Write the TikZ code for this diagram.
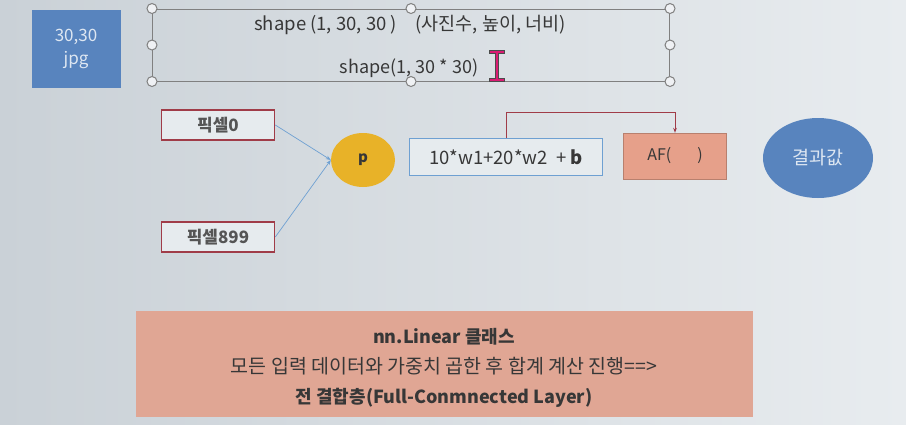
\documentclass[tikz,border=0pt]{standalone}
\usepackage{fontspec}
\setmainfont{Noto Sans CJK KR}
\usetikzlibrary{arrows.meta,shapes.geometric}
\definecolor{slide}{RGB}{214,221,227}
\definecolor{slideleft}{RGB}{202,209,215}
\definecolor{slideright}{RGB}{232,236,239}
\definecolor{imgblue}{RGB}{88,132,190}
\definecolor{pxred}{RGB}{160,60,72}
\definecolor{pyellow}{RGB}{232,178,40}
\definecolor{linkblue}{RGB}{110,160,210}
\definecolor{afsalmon}{RGB}{230,160,138}
\definecolor{boxsalmon}{RGB}{224,166,148}
\definecolor{txtgrey}{RGB}{55,55,55}
\begin{document}
\begin{tikzpicture}[x=1pt,y=-1pt,
    pixel/.style={draw=pxred,line width=1.6pt,fill=slide!60!white,minimum width=113pt,minimum height=30pt,font=\fontsize{17}{19}\selectfont\bfseries,text=txtgrey!85},
    handle/.style={circle,draw=gray,line width=1pt,fill=slide!40!white,inner sep=0pt,minimum size=10pt},
    link/.style={->,draw=linkblue,line width=0.7pt,>={Stealth[length=5pt]}}]
  \shade[left color=slideleft,right color=slideright] (0,0) rectangle (906,424);
  \useasboundingbox (0,0) rectangle (906,424);
  % image box
  \node[fill=imgblue,minimum width=89pt,minimum height=78pt,text=white!80!imgblue,
        align=center,font=\fontsize{17}{23}\selectfont] (img) at (76,49) {30,30\\jpg};
  % selected text box
  \node[draw=gray,line width=1pt,minimum width=517pt,minimum height=72pt] (shapebox) at (411,45) {};
  \node[font=\fontsize{18.5}{20}\selectfont,text=txtgrey] (shape3) at (410,25) {shape (1, 30, 30 )\quad (사진수, 높이, 너비)};
  \node[font=\fontsize{18}{20}\selectfont,text=txtgrey] (shape2) at (409,68) {shape(1, 30 * 30)};
  \foreach \pos in {north west,north,north east,west,east,south west,south,south east}
    \node[handle] at (shapebox.\pos) {};
  % cursor
  \draw[line width=3.2pt,black!70] (489,52) -- (505,52) (497,52) -- (497,80) (489,80) -- (505,80);
  \draw[line width=1.6pt,magenta!60!purple] (490,52) -- (504,52) (497,52) -- (497,80) (490,80) -- (504,80);
  % inputs
  \node[pixel] (px0) at (218,125) {픽셀0};
  \node[pixel] (px899) at (218,237) {픽셀899};
  \node[ellipse,fill=pyellow,minimum width=64pt,minimum height=54pt,
        font=\fontsize{15}{17}\selectfont\bfseries,text=txtgrey] (p) at (363,160) {p};
  \draw[link] (px0.east) -- (p.west);
  \draw[link] (px899.east) -- (p.west);
  % weighted sum and activation
  \node[draw=linkblue,line width=1pt,fill=slide!60!white,minimum width=193pt,minimum height=37pt,
        font=\fontsize{18.5}{20}\selectfont,text=txtgrey] (sum) at (506,157) {10*w1+20*w2\ \ +\ \textbf{b}};
  \node[draw=afsalmon!80!black,fill=afsalmon,minimum width=103pt,minimum height=46pt,
        font=\fontsize{16}{18}\selectfont,text=txtgrey] (af) at (675,156) {AF(\hspace{26pt})};
  \draw[pxred,line width=1pt,-{Stealth[length=5pt]}] (sum.north) -- ++(0,-26) -| (af.north);
  \node[ellipse,fill=imgblue,minimum width=110pt,minimum height=80pt,
        font=\fontsize{18.5}{20}\selectfont,text=white!80!imgblue] (out) at (818,158) {결과값};
  % summary
  \node[fill=boxsalmon,minimum width=617pt,minimum height=106pt] (linear) at (444,364) {};
  \node[text=txtgrey,align=center,font=\fontsize{18}{30}\selectfont] (lineartext) at (444,368)
    {\textbf{nn.Linear 클래스}\\{\fontsize{19.5}{30}\selectfont 모든 입력 데이터와 가중치 곱한 후 합계 계산 진행==>}\\\textbf{전 결합층(Full-Conmnected Layer)}};
\end{tikzpicture}
\end{document}
